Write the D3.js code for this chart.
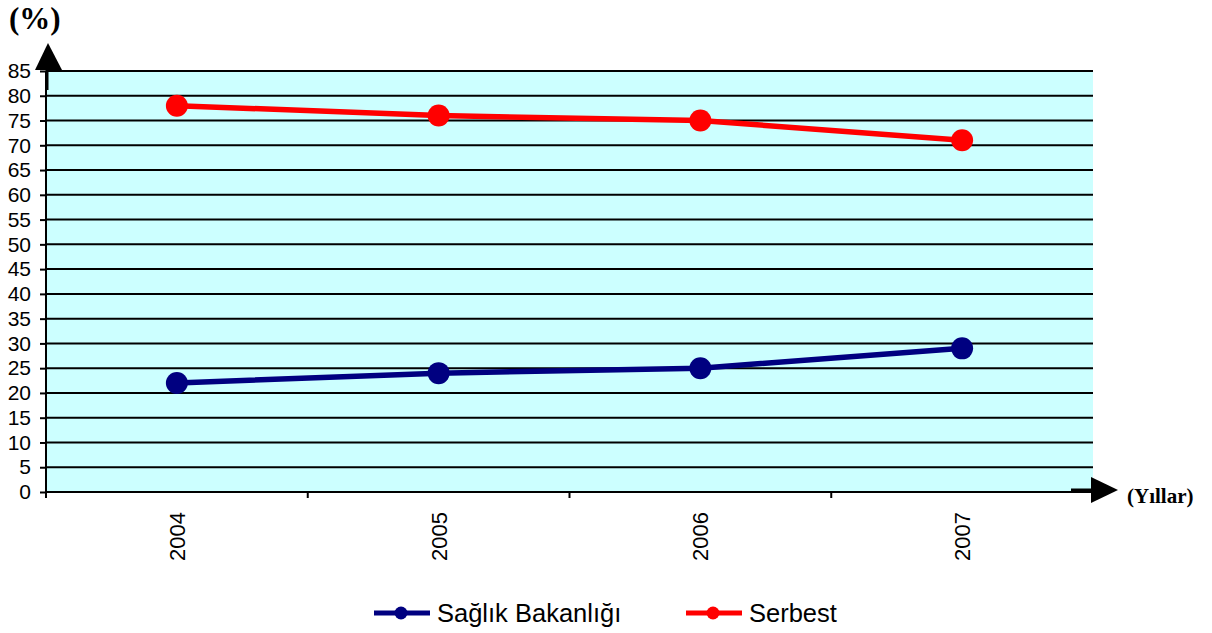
<!DOCTYPE html>
<html><head><meta charset="utf-8">
<script src="https://cdn.jsdelivr.net/npm/d3@7"></script>
<style>
html,body{margin:0;padding:0;background:#fff;}
svg{display:block;}
</style></head>
<body>
<svg id="chart" width="1212" height="633"></svg>
<script>
// Yıllara göre oranlar (%)
const years = ["2004", "2005", "2006", "2007"];
const saglikBakanligi = [22, 24, 25, 29];
const serbest = [78, 76, 75, 71];
const yTicks = [0,5,10,15,20,25,30,35,40,45,50,55,60,65,70,75,80,85];
const seriesNames = ["Sağlık Bakanlığı", "Serbest"];
const seriesColors = ["#000080", "#ff0000"];

const svg = d3.select("#chart");
const plotLeft = 46, plotRight = 1093, plotTop = 71, plotBottom = 492;
const sans = "Arial, 'Liberation Sans', sans-serif";
const serif = "'Times New Roman', 'Liberation Serif', serif";

const x = d3.scaleBand().domain(years).range([plotLeft, plotRight]);
const y = d3.scaleLinear().domain([0, 85]).range([plotBottom, plotTop]);

// plot background
svg.append("rect").attr("x", plotLeft).attr("y", plotTop)
  .attr("width", plotRight - plotLeft).attr("height", plotBottom - plotTop).attr("fill", "#ccffff");

// horizontal gridlines
svg.append("g").selectAll("line").data(yTicks.filter(d => d > 0)).join("line")
  .attr("x1", plotLeft).attr("x2", plotRight)
  .attr("y1", d => y(d)).attr("y2", d => y(d))
  .attr("stroke", "#000").attr("stroke-width", 2);

// y axis
const yAxis = svg.append("g").attr("transform", `translate(${plotLeft},0)`)
  .call(d3.axisLeft(y).tickValues(yTicks).tickSize(6).tickPadding(9));
yAxis.select(".domain").remove();
yAxis.selectAll(".tick line").attr("stroke", "#000").attr("stroke-width", 2);
yAxis.selectAll(".tick text").attr("font-family", sans)
  .attr("font-size", 21).attr("fill", "#000");

// x axis with ticks at category boundaries
const boundaries = years.map(d => x(d)).concat([plotRight]);
svg.append("g").selectAll("line").data(boundaries).join("line")
  .attr("x1", d => d).attr("x2", d => d)
  .attr("y1", plotBottom).attr("y2", plotBottom + 6)
  .attr("stroke", "#000").attr("stroke-width", 2);
svg.append("line").attr("x1", plotLeft).attr("x2", plotRight)
  .attr("y1", plotBottom).attr("y2", plotBottom).attr("stroke", "#000").attr("stroke-width", 2);
svg.append("line").attr("x1", plotLeft).attr("x2", plotLeft)
  .attr("y1", plotTop).attr("y2", plotBottom + 6).attr("stroke", "#000").attr("stroke-width", 2);

// x labels rotated
svg.append("g").selectAll("text").data(years).join("text")
  .attr("transform", d => `translate(${x(d) + x.bandwidth() / 2 + 8},512) rotate(-90)`)
  .attr("text-anchor", "end")
  .attr("font-family", sans)
  .attr("font-size", 22).attr("fill", "#000")
  .text(d => d);

// axis arrows
svg.append("line").attr("x1", 47).attr("x2", 47).attr("y1", 62).attr("y2", 90)
  .attr("stroke", "#000").attr("stroke-width", 3);
svg.append("path").attr("d", "M48,43 L35,70 L62,70 Z").attr("fill", "#000");
svg.append("line").attr("x1", 1071).attr("x2", 1100).attr("y1", 490).attr("y2", 490)
  .attr("stroke", "#000").attr("stroke-width", 3);
svg.append("path").attr("d", "M1118,490 L1091,477 L1091,503 Z").attr("fill", "#000");

svg.append("text").attr("x", 9).attr("y", 29)
  .attr("font-family", serif)
  .attr("font-weight", "bold").attr("font-size", 31).text("(%)");
svg.append("text").attr("x", 1127).attr("y", 503)
  .attr("font-family", serif)
  .attr("font-weight", "bold").attr("font-size", 21).text("(Yıllar)");

// series lines and markers
const cx = d => x(d) + x.bandwidth() / 2;
const line = d3.line().x((d, i) => cx(years[i])).y(d => y(d));
[saglikBakanligi, serbest].forEach((vals, k) => {
  svg.append("path").attr("d", line(vals)).attr("fill", "none")
    .attr("stroke", seriesColors[k]).attr("stroke-width", 5.5);
  svg.append("g").selectAll("circle").data(vals).join("circle")
    .attr("cx", (d, i) => cx(years[i])).attr("cy", d => y(d))
    .attr("r", 11).attr("fill", seriesColors[k]);
});

// legend
const legendItems = [{x: 374, name: seriesNames[0], color: seriesColors[0]},
                     {x: 686, name: seriesNames[1], color: seriesColors[1]}];
const lg = svg.append("g").selectAll("g").data(legendItems).join("g")
  .attr("transform", d => `translate(${d.x},613)`);
lg.append("line").attr("x1", 0).attr("x2", 56).attr("y1", 0).attr("y2", 0)
  .attr("stroke", d => d.color).attr("stroke-width", 5);
lg.append("circle").attr("cx", 27).attr("cy", 0).attr("r", 6.5).attr("fill", d => d.color);
lg.append("text").attr("x", 63).attr("y", 9)
  .attr("font-family", sans)
  .attr("font-size", 25.5).attr("fill", "#000").text(d => d.name);
</script>
</body></html>
